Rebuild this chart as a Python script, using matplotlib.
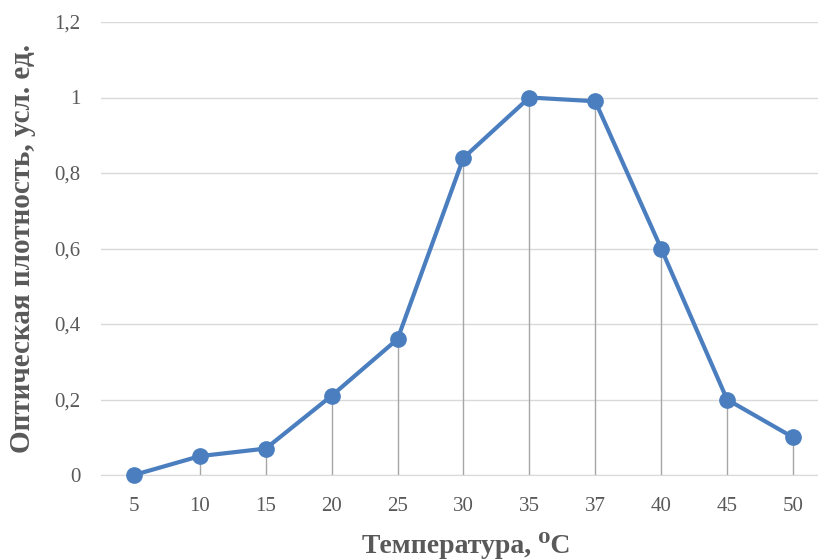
import matplotlib
matplotlib.use("Agg")
import matplotlib.pyplot as plt

temps = ["5", "10", "15", "20", "25", "30", "35", "37", "40", "45", "50"]
density = [0.0, 0.05, 0.07, 0.21, 0.36, 0.84, 1.0, 0.99, 0.6, 0.2, 0.1]
y_ticks = [0, 0.2, 0.4, 0.6, 0.8, 1.0, 1.2]
y_labels = ["0", "0,2", "0,4", "0,6", "0,8", "1", "1,2"]

plt.rcParams["font.family"] = ["Liberation Serif", "DejaVu Serif"]

fig = plt.figure(figsize=(8.18, 5.60), dpi=100)
ax = fig.add_axes([101 / 818, 85 / 560, 717 / 818, 453 / 560])

x = list(range(len(temps)))

# drop lines from each point down to the axis
ax.vlines(x, 0, density, color="#a6a6a6", linewidth=1.0, zorder=2)
ax.plot(x, density, color="#4a7ebf", linewidth=3.0, marker="o",
        markersize=11, zorder=3, clip_on=False)

ax.set_xlim(-0.5, 10.38)
ax.set_ylim(0, 1.2)
ax.set_xticks(x)
ax.set_xticklabels(temps)
ax.set_yticks(y_ticks)
ax.set_yticklabels(y_labels)
ax.grid(axis="y", color="#d9d9d9", linewidth=1.0, zorder=0)
ax.set_axisbelow(True)
for s in ["top", "right", "left"]:
    ax.spines[s].set_visible(False)
ax.spines["bottom"].set_color("#d9d9d9")
ax.tick_params(length=0, labelsize=15, colors="#595959")
ax.tick_params(axis="x", pad=16)
ax.tick_params(axis="y", pad=15)

ax.set_xlabel("Температура, ⁰С", fontsize=20, fontweight="bold",
              color="#595959")
ax.xaxis.set_label_coords(0.509, -0.125)
ax.set_ylabel("Оптическая плотность, усл. ед.", fontsize=21,
              fontweight="bold", color="#595959", labelpad=13)

fig.savefig("out.png", dpi=100)
